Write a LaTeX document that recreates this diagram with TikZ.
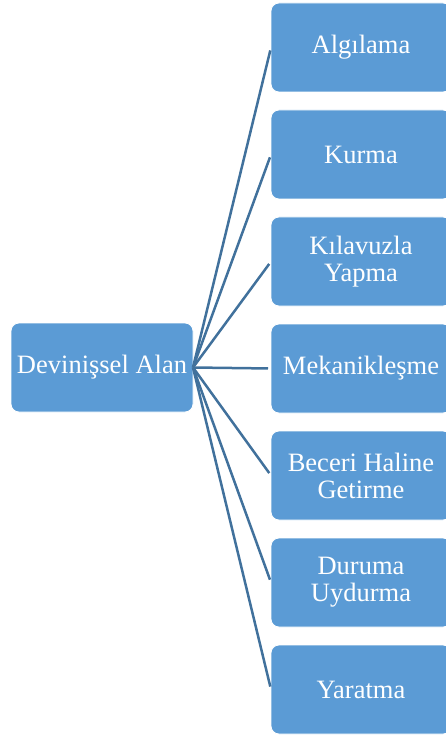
\documentclass[tikz,border=0pt]{standalone}
\usepackage{fontspec}
\setmainfont{Liberation Serif}
\usetikzlibrary{positioning}
\definecolor{boxblue}{HTML}{5B9BD5}
\definecolor{linkblue}{HTML}{41719C}

\begin{document}
\begin{tikzpicture}[x=1pt,y=1pt,node distance=18pt]
\tikzstyle{box}=[draw=white,line width=0.8pt,fill=boxblue,rounded corners=8pt,
  text=white,align=center,font=\fontsize{26.5}{27}\selectfont,inner sep=0pt,outer sep=0pt]
\tikzstyle{level}=[box,minimum width=180pt,minimum height=89pt]
\tikzstyle{link}=[draw=linkblue,line width=2.5pt,shorten >=3pt]
\useasboundingbox (0,0) rectangle (445,-735);
\node[box,minimum width=182pt,minimum height=89pt] (root) at (102,-367.5) {Devinişsel Alan};
\node[level] (algi) at (361,-47.5) {Algılama};
\node[level] (kurma) [below=of algi] {Kurma};
\node[level] (kila) [below=of kurma] {Kılavuzla\\Yapma};
\node[level] (meka) [below=of kila] {Mekanikleşme};
\node[level] (beceri) [below=of meka] {Beceri Haline\\Getirme};
\node[level] (durum) [below=of beceri] {Duruma\\Uydurma};
\node[level] (yara) [below=of durum] {Yaratma};
\path[link] (root.east) edge (algi.west);
\path[link] (root.east) edge (kurma.west);
\path[link] (root.east) edge (kila.west);
\path[link] (root.east) edge (meka.west);
\path[link] (root.east) edge (beceri.west);
\path[link] (root.east) edge (durum.west);
\path[link] (root.east) edge (yara.west);
\end{tikzpicture}
\end{document}
